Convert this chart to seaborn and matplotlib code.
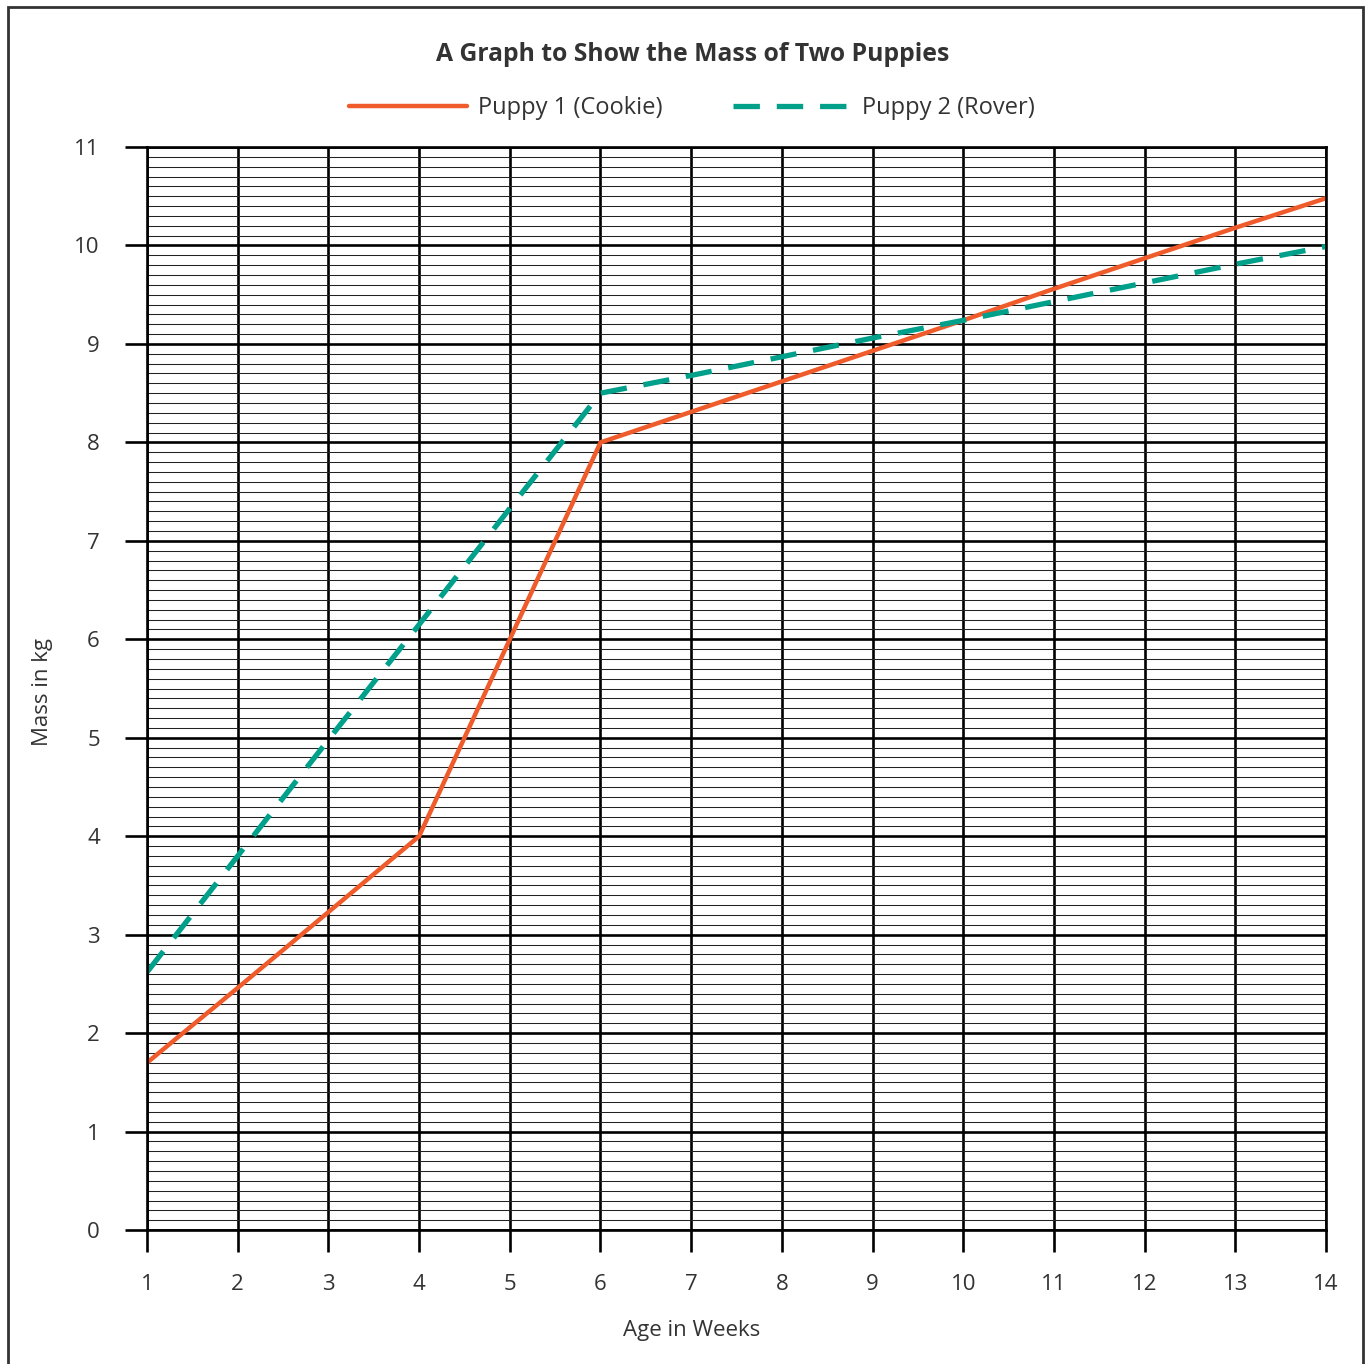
import pandas as pd
import seaborn as sns
import matplotlib.pyplot as plt
from matplotlib.ticker import MultipleLocator
from matplotlib.patches import Rectangle

# Values
weeks = list(range(1, 15))
cookie_kg = [1.7, 2.46, 3.23, 4.0, 6.0, 8.0, 8.31, 8.62, 8.93, 9.24, 9.56, 9.87, 10.18, 10.48]
rover_kg = [2.62, 3.8, 4.98, 6.15, 7.33, 8.5, 8.68, 8.87, 9.06, 9.24, 9.43, 9.62, 9.81, 9.99]
series_names = ["Puppy 1 (Cookie)", "Puppy 2 (Rover)"]
y_ticks = list(range(0, 12))

title = "A Graph to Show the Mass of Two Puppies"
x_label = "Age in Weeks"
y_label = "Mass in kg"

colours = {series_names[0]: "#EF5B2A", series_names[1]: "#00A08A"}
line_styles = {series_names[0]: "", series_names[1]: (5, 3.2)}
text_colour = "#333333"

df = pd.concat([
    pd.DataFrame({"week": weeks, "mass": cookie_kg, "puppy": series_names[0]}),
    pd.DataFrame({"week": weeks, "mass": rover_kg, "puppy": series_names[1]}),
])

sns.set_style("white")
plt.rcParams["font.family"] = ["Open Sans", "DejaVu Sans"]

fig = plt.figure(figsize=(13.68, 13.64), dpi=100)
ax = fig.add_axes([0.1075, 0.0982, 0.9693 - 0.1075, 0.8922 - 0.0982])

# grid first so the lines sit on top
ax.set_axisbelow(True)
ax.yaxis.set_minor_locator(MultipleLocator(0.1))
ax.grid(which="minor", axis="y", color="#222222", linewidth=0.75)
ax.grid(which="major", axis="both", color="black", linewidth=1.9)

sns.lineplot(data=df, x="week", y="mass", hue="puppy", style="puppy",
             palette=colours, dashes=line_styles, linewidth=3.2, ax=ax,
             legend=False)
for line, name in zip(ax.get_lines(), series_names):
    line.set_label(name)
    if name == series_names[1]:
        line.set_linewidth(3.8)

ax.set_xlim(1, 14)
ax.set_ylim(0, 11)
ax.set_xticks(weeks)
ax.set_yticks(y_ticks)
ax.tick_params(which="major", bottom=True, left=True, length=16, width=1.9,
               color="black", labelsize=16, labelcolor=text_colour)
ax.tick_params(axis="x", pad=16)
ax.tick_params(axis="y", pad=18)
ax.tick_params(which="minor", length=0)
for s in ax.spines.values():
    s.set_color("black")
    s.set_linewidth(1.9)

ax.set_xlabel(x_label, fontsize=16, color=text_colour)
ax.set_ylabel(y_label, fontsize=16, color=text_colour)
ax.xaxis.set_label_coords((692 - 147) / 1179, -0.083)
ax.yaxis.set_label_coords(-0.080, 0.497)

fig.text(0.506, 0.960, title, ha="center", va="center", fontsize=17.8,
         fontweight="bold", color=text_colour)
ax.legend(loc="center", bbox_to_anchor=(0.462, 1.036), ncol=2, frameon=False,
          fontsize=17, handlelength=5.0, columnspacing=3.0, handletextpad=0.45,
          labelcolor=text_colour)

# thin frame around the whole figure
fig.patches.append(Rectangle((8 / 1368, -0.01), (1363 - 8) / 1368, 1 - 7 / 1364 + 0.01,
                             transform=fig.transFigure, fill=False,
                             edgecolor="#333333", linewidth=2))

fig.savefig("out.png", dpi=100)
